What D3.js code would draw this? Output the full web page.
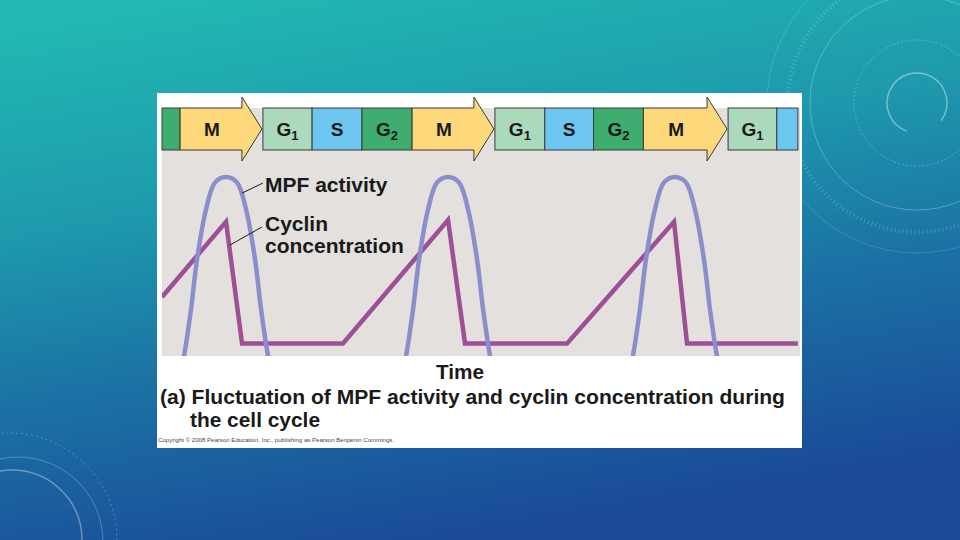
<!DOCTYPE html>
<html>
<head>
<meta charset="utf-8">
<script src="https://cdn.jsdelivr.net/npm/d3@7"></script>
<style>
  html, body { margin: 0; padding: 0; background: #1d7fa8; }
  svg { display: block; }
  text { font-family: "Liberation Sans", Arial, sans-serif; }
</style>
</head>
<body>
<svg id="chart" width="960" height="540"></svg>
<script>
// ---------- data ----------
const phaseNames = ["G2", "M", "G1", "S", "G2", "M", "G1", "S", "G2", "M", "G1", "S"];
const phaseStart = [0, 0.78, 4.35, 6.47, 8.62, 10.78, 14.35, 16.5, 18.6, 20.75, 24.4, 26.5];
const phaseEnd   = [0.78, 4.35, 6.47, 8.62, 10.78, 14.35, 16.5, 18.6, 20.75, 24.4, 26.5, 27.41];

// cyclin concentration (time, level)
const cyclinTime  = [0, 2.76, 3.45, 7.8, 12.33, 13.06, 17.46, 22.07, 22.63, 27.41];
const cyclinLevel = [0.33, 0.75, 0.07, 0.07, 0.76, 0.07, 0.07, 0.75, 0.07, 0.07];

// MPF activity, one array per peak (time, level)
const mpfPeak1Time  = [0.78, 0.95, 1.25, 1.51, 1.90, 2.29, 2.76, 3.23, 3.62, 4.01, 4.27, 4.57, 4.74];
const mpfPeak2Time  = [10.35, 10.52, 10.82, 11.08, 11.47, 11.86, 12.33, 12.80, 13.19, 13.58, 13.84, 14.14, 14.31];
const mpfPeak3Time  = [20.13, 20.30, 20.60, 20.86, 21.25, 21.64, 22.11, 22.58, 22.97, 23.36, 23.62, 23.92, 24.09];
const mpfPeakLevel  = [-0.11, 0.0, 0.26, 0.54, 0.82, 0.97, 1.0, 0.97, 0.82, 0.54, 0.26, 0.0, -0.11];

const labelMPF = "MPF activity";
const labelCyclin = ["Cyclin", "concentration"];
const axisTitle = "Time";
const captionLines = ["(a) Fluctuation of MPF activity and cyclin concentration during", "the cell cycle"];
const copyright = "Copyright \u00A9 2008 Pearson Education, Inc., publishing as Pearson Benjamin Cummings.";

const phaseColors = { "M": "#fdd97c", "G1": "#abd9bb", "S": "#6cc6ef", "G2": "#3fac70" };

// ---------- layout ----------
const svg = d3.select("#chart");
const W = 960, H = 540;
const plot = { left: 162, right: 800, top: 108, bottom: 356 };

const x = d3.scaleLinear().domain([0, 27.5]).range([plot.left, plot.right]);
const y = d3.scaleLinear().domain([0, 1]).range([plot.bottom, 177]);

// ---------- background ----------
const defs = svg.append("defs");
const grad = defs.append("linearGradient").attr("id", "bg")
  .attr("x1", "0.15").attr("y1", "0").attr("x2", "0.45").attr("y2", "1");
[[0, "#21b9b2"], [0.35, "#1e9bad"], [0.65, "#1b72a4"], [1, "#1a4a98"]].forEach(s =>
  grad.append("stop").attr("offset", s[0]).attr("stop-color", s[1]));
svg.append("rect").attr("width", W).attr("height", H).attr("fill", "url(#bg)");

const deco = svg.append("g").attr("fill", "none").attr("stroke", "#ffffff");
// top-right circles
deco.append("path").attr("d", d3.arc()({ innerRadius: 30, outerRadius: 30, startAngle: -2.8, endAngle: 2.2 }))
  .attr("transform", "translate(917,103)").attr("stroke-opacity", 0.4).attr("stroke-width", 1.5);
deco.append("circle").attr("cx", 917).attr("cy", 103).attr("r", 63)
  .attr("stroke-opacity", 0.25).attr("stroke-dasharray", "2,2");
deco.append("circle").attr("cx", 917).attr("cy", 103).attr("r", 107).attr("stroke-opacity", 0.25);
deco.append("circle").attr("cx", 917).attr("cy", 103).attr("r", 129)
  .attr("stroke-opacity", 0.2).attr("stroke-dasharray", "1,3").attr("stroke-width", 4);
deco.append("circle").attr("cx", 917).attr("cy", 103).attr("r", 150).attr("stroke-opacity", 0.15);
// bottom-left circles
deco.append("circle").attr("cx", 12).attr("cy", 540).attr("r", 70).attr("stroke-opacity", 0.35).attr("stroke-width", 1.5);
deco.append("circle").attr("cx", 18).attr("cy", 542).attr("r", 85).attr("stroke-opacity", 0.25);
deco.append("circle").attr("cx", 10).attr("cy", 540).attr("r", 107)
  .attr("stroke-opacity", 0.25).attr("stroke-dasharray", "2,3");

// ---------- panel ----------
svg.append("rect").attr("x", 157).attr("y", 93).attr("width", 645).attr("height", 355).attr("fill", "#ffffff");
svg.append("rect").attr("x", plot.left).attr("y", plot.top)
  .attr("width", plot.right - plot.left).attr("height", plot.bottom - plot.top).attr("fill", "#e3e0dd");

defs.append("clipPath").attr("id", "plotclip").append("rect")
  .attr("x", plot.left).attr("y", plot.top).attr("width", plot.right - plot.left).attr("height", plot.bottom - plot.top);

// ---------- phase bar ----------
const barTop = 108, barBot = 150, headTop = 97, headBot = 161, headLen = 20;
const phases = phaseNames.map((n, i) => ({ name: n, s: phaseStart[i], e: phaseEnd[i] }));
const pg = svg.append("g");
phases.forEach(p => {
  const x0 = x(p.s), x1 = x(p.e);
  if (p.name === "M") {
    const tip = x1 - 1, base = tip - headLen, mid = (barTop + barBot) / 2;
    pg.append("path")
      .attr("d", `M${x0},${barTop}L${base},${barTop}L${base},${headTop}L${tip},${mid}L${base},${headBot}L${base},${barBot}L${x0},${barBot}Z`)
      .attr("fill", phaseColors.M).attr("stroke", "#3a3a3a").attr("stroke-width", 1);
  } else {
    pg.append("rect").attr("x", x0).attr("y", barTop).attr("width", x1 - x0).attr("height", barBot - barTop)
      .attr("fill", phaseColors[p.name]).attr("stroke", "#3a3a3a").attr("stroke-width", 1);
  }
  const w = x1 - x0;
  if (w < 30) return;
  const cx = p.name === "M" ? (x0 + x1 - 1 - headLen) / 2 + 1 : (x0 + x1) / 2;
  const t = pg.append("text").attr("x", cx).attr("y", 136).attr("text-anchor", "middle")
    .attr("font-size", 19).attr("font-weight", "bold").attr("fill", "#1a1a1a");
  if (p.name.length > 1) {
    t.append("tspan").text(p.name[0]);
    t.append("tspan").text(p.name[1]).attr("font-size", 13).attr("dy", 4);
  } else {
    t.text(p.name);
  }
});

// ---------- curves ----------
const cg = svg.append("g").attr("clip-path", "url(#plotclip)");
const cyclin = cyclinTime.map((t, i) => [t, cyclinLevel[i]]);
cg.append("path").datum(cyclin)
  .attr("d", d3.line().x(d => x(d[0])).y(d => y(d[1])))
  .attr("fill", "none").attr("stroke", "#9e4f98").attr("stroke-width", 4.5).attr("stroke-linejoin", "miter");

const mpfLine = d3.line().x(d => x(d[0])).y(d => y(d[1])).curve(d3.curveCatmullRom.alpha(0.5));
[mpfPeak1Time, mpfPeak2Time, mpfPeak3Time].forEach(arr => {
  cg.append("path").datum(arr.map((t, i) => [t, mpfPeakLevel[i]]))
    .attr("d", mpfLine).attr("fill", "none").attr("stroke", "#8b8ecd").attr("stroke-width", 4.5);
});

// ---------- annotations ----------
const ann = svg.append("g").attr("fill", "#1a1a1a").attr("font-weight", "bold");
svg.append("line").attr("x1", x(3.45)).attr("y1", y(0.91)).attr("x2", 263).attr("y2", 183)
  .attr("stroke", "#1a1a1a").attr("stroke-width", 1);
svg.append("line").attr("x1", x(2.93)).attr("y1", y(0.62)).attr("x2", 262).attr("y2", 227)
  .attr("stroke", "#1a1a1a").attr("stroke-width", 1);
ann.append("text").attr("x", 265).attr("y", 192).attr("font-size", 21).text(labelMPF);
ann.append("text").attr("x", 265).attr("y", 231).attr("font-size", 21).text(labelCyclin[0]);
ann.append("text").attr("x", 265).attr("y", 253).attr("font-size", 21).text(labelCyclin[1]);

ann.append("text").attr("x", 460).attr("y", 379).attr("font-size", 21).attr("text-anchor", "middle")
  .attr("textLength", 48).attr("lengthAdjust", "spacingAndGlyphs").text(axisTitle);
ann.append("text").attr("x", 160).attr("y", 404).attr("font-size", 21)
  .attr("textLength", 625).attr("lengthAdjust", "spacingAndGlyphs").text(captionLines[0]);
ann.append("text").attr("x", 190).attr("y", 427).attr("font-size", 21)
  .attr("textLength", 130).attr("lengthAdjust", "spacingAndGlyphs").text(captionLines[1]);
svg.append("text").attr("x", 158).attr("y", 442).attr("font-size", 6).attr("fill", "#444")
  .attr("textLength", 236).attr("lengthAdjust", "spacingAndGlyphs").text(copyright);
</script>
</body>
</html>
